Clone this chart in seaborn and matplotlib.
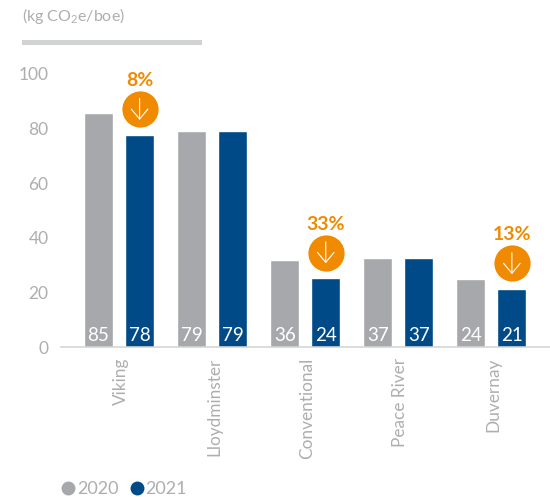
import matplotlib
matplotlib.use("Agg")
import matplotlib.pyplot as plt
import pandas as pd
import seaborn as sns
from matplotlib.lines import Line2D
from matplotlib.patches import Rectangle
from matplotlib.text import OffsetFrom
from matplotlib.transforms import ScaledTranslation

sns.set_theme(style="white")
plt.rcParams["font.family"] = ["Lato", "DejaVu Sans"]
plt.rcParams["mathtext.default"] = "regular"

categories = ["Viking", "Lloydminster", "Conventional", "Peace River", "Duvernay"]
values_2020 = [85.6, 79.0, 31.7, 32.6, 25.0]
values_2021 = [77.6, 79.0, 25.1, 32.6, 21.1]
labels_2020 = ["85", "79", "36", "37", "24"]
labels_2021 = ["78", "79", "24", "37", "21"]
changes = {0: "8%", 2: "33%", 4: "13%"}
yticks = [0, 20, 40, 60, 80, 100]

GREY = "#a7a8ab"
BLUE = "#004b87"
ORANGE = "#f08a00"
TEXT = "#adaeb0"
RULE = "#d1d3d2"
W, H = 550, 497

df = pd.DataFrame({
    "site": categories * 2,
    "year": ["2020"] * 5 + ["2021"] * 5,
    "value": values_2020 + values_2021,
})

fig = plt.figure(figsize=(W / 100, H / 100), dpi=100)
ax = fig.add_axes([61 / W, (H - 347) / H, (W - 61) / W, 273 / H])
sns.barplot(data=df, x="site", y="value", hue="year", order=categories,
            hue_order=["2020", "2021"], palette=[GREY, BLUE], saturation=1,
            width=0.882, gap=0.293, legend=False, ax=ax)

ax.set_xlim(-0.624, 4.63)
ax.set_ylim(0, 100)
ax.set_xlabel("")
ax.set_ylabel("")
ax.set_yticks(yticks)
ax.tick_params(axis="y", length=0, pad=9, labelsize=12.5, labelcolor=TEXT)
ax.tick_params(axis="x", length=0, pad=7.5, labelsize=12.4, labelcolor=TEXT, labelrotation=90)
shift = ScaledTranslation(2 / 100, 0, fig.dpi_scale_trans)
for label in ax.get_xticklabels():
    label.set_transform(label.get_transform() + shift)
for side in ("top", "right", "left"):
    ax.spines[side].set_visible(False)
ax.spines["bottom"].set_color(RULE)
ax.spines["bottom"].set_linewidth(1.1)

for container, labels in zip(ax.containers, [labels_2020, labels_2021]):
    for patch, label in zip(container.patches, labels):
        ax.annotate(label, xy=(patch.get_x() + patch.get_width() / 2, 0),
                    xytext=(0, 8.3), textcoords="offset points",
                    ha="center", va="center", color="white", fontsize=13.5)

for i, text in changes.items():
    patch = ax.containers[1].patches[i]
    cx = patch.get_x() + patch.get_width() / 2
    cy = patch.get_height() + 9.5
    ax.scatter([cx], [cy], s=680, color=ORANGE, linewidths=0, zorder=5, clip_on=False)
    centre = OffsetFrom(ax.transData, (cx, cy), "points")
    ax.annotate("", xy=(0, -7.7), xycoords=centre, xytext=(0, 7.7), textcoords=centre,
                arrowprops=dict(arrowstyle="->,head_length=0.6,head_width=0.5",
                                color="white", lw=0.8, shrinkA=0, shrinkB=0), zorder=6)
    ax.annotate(text, xy=(cx, cy), xytext=(0, 20.5), textcoords="offset points",
                ha="center", va="center", color=ORANGE, fontsize=14, fontweight="bold", zorder=6)

fig.text(22 / W, 1 - 16 / H, "(kg CO$_2$e/boe)", color=TEXT, fontsize=11.5, ha="left", va="center")
fig.add_artist(Rectangle((22 / W, 1 - 45 / H), 180 / W, 5 / H, transform=fig.transFigure,
                         facecolor=RULE, edgecolor="none"))

handles = [Line2D([], [], linestyle="", marker="o", markersize=9, color=c) for c in (GREY, BLUE)]
fig.legend(handles, ["2020", "2021"], loc="center left", bbox_to_anchor=(61 / W, 1 - 489 / H),
           ncol=2, frameon=False, fontsize=13, labelcolor=TEXT, handlelength=0.8,
           handletextpad=0.08, columnspacing=0.63, borderpad=0, borderaxespad=0)

fig.savefig("out.png", dpi=100)
